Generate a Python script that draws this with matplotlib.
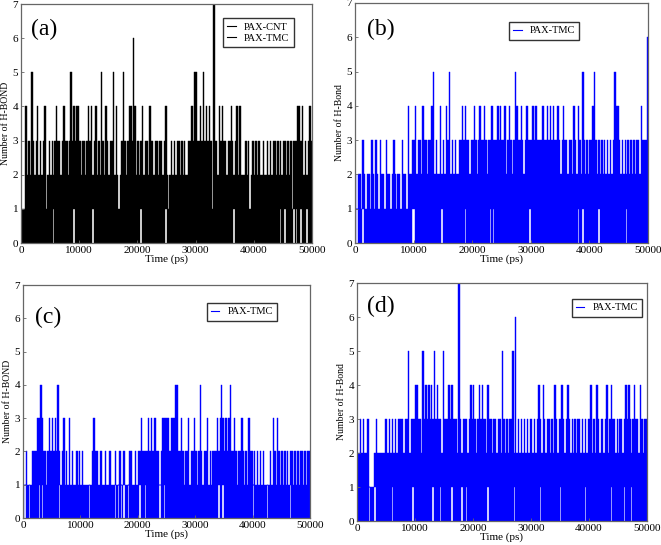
"""
hbond_panels.py
Number of hydrogen bonds vs simulation time, panels (a)-(d).

Each PEAK_* string holds the peak H-bond count in consecutive 250 ps bins
(0 - 50000 ps), read off the published figure. GAPS_* are the times where
the count never drops to zero inside the bin (white streaks in the bottom band).
"""

import numpy as np
import matplotlib.pyplot as plt
from matplotlib.lines import Line2D


BIN_PS = 250
TIME_TICKS = [0, 10000, 20000, 30000, 40000, 50000]
HBOND_TICKS = [0, 1, 2, 3, 4, 5, 6, 7]

PEAK_A = (
    "11142 32532 34232 34123 23234 "
    "33234 33235 34344 32332 34342 "
    "34232 53243 23352 42123 53234 "
    "43642 32342 33243 32332 33234 "
    "21232 32332 32322 33435 53343 "
    "53434 31733 24343 32334 32342 "
    "42223 23123 23232 23223 23233 "
    "23232 33232 31333 44342 32343"
)
GAPS_A = [5700, 9200, 12300, 20500, 24800, 36600, 44700, 45300,
          46800, 47300, 48200, 49100]

PEAK_B = (
    "21221 32122 13213 21322 13221 "
    "23212 21322 14223 34233 24332 "
    "33452 32242 32435 23232 23343 "
    "43323 34323 43343 23343 33434 "
    "33423 43235 43343 23433 34343 "
    "33343 34343 43343 23433 23324 "
    "32432 53232 33453 23232 32323 "
    "23544 32323 23232 32332 43336"
)
GAPS_B = [300, 1400, 9900, 10000, 14800, 18800, 23200, 23600, 29900,
          38200, 38900, 41600, 46300]

PEAK_C = (
    "11211 12222 33432 21232 32324 "
    "21231 21312 11212 12111 11123 "
    "22112 11211 21112 11211 21112 "
    "21121 22322 22323 23322 12333 "
    "33233 34422 32122 31223 21242 "
    "12231 21222 32343 23234 22321 "
    "22321 21322 12121 21211 11213 "
    "21321 21212 12212 12122 12122"
)
GAPS_C = [300, 1000, 2800, 3300, 6400, 11500, 16000, 16600, 17000,
          17500, 18300, 20400, 21400, 23900, 24600, 34000, 34800,
          40100, 42500, 46500]

PEAK_D = (
    "22323 22311 11232 22223 32323 "
    "23233 33233 52333 44332 53434 "
    "34353 43325 33343 43332 73233 "
    "32343 43234 34332 43323 32332 "
    "53232 33526 23232 32323 32323 "
    "43243 23323 24323 34323 43232 "
    "32332 32323 34232 43233 23423 "
    "43323 23323 43432 34332 43233"
)
GAPS_D = [2200, 3100, 6000, 9700, 13150, 14480, 16330, 18050, 18900,
          22640, 27240, 31550, 35000, 39300, 43900, 46200, 47360]

BLACK = "#000000"
BLUE = "#0000ff"

PANELS = [
    {"tag": "(a)", "peak": PEAK_A, "gaps": GAPS_A, "color": BLACK,
     "ylabel": "Number of H-BOND", "legend": ["PAX-CNT", "PAX-TMC"],
     "rect": [0.0318, 0.5541, 0.4402, 0.4385],
     "tag_xy": (0.035, 0.895), "leg_xy": (0.695, 0.941)},
    {"tag": "(b)", "peak": PEAK_B, "gaps": GAPS_B, "color": BLUE,
     "ylabel": "Number of H-Bond", "legend": ["PAX-TMC"],
     "rect": [0.5370, 0.5541, 0.4433, 0.4404],
     "tag_xy": (0.041, 0.888), "leg_xy": (0.526, 0.921)},
    {"tag": "(c)", "peak": PEAK_C, "gaps": GAPS_C, "color": BLUE,
     "ylabel": "Number of H-BOND", "legend": ["PAX-TMC"],
     "rect": [0.0348, 0.0495, 0.4342, 0.4275],
     "tag_xy": (0.042, 0.863), "leg_xy": (0.641, 0.923)},
    {"tag": "(d)", "peak": PEAK_D, "gaps": GAPS_D, "color": BLUE,
     "ylabel": "Number of H-Bond", "legend": ["PAX-TMC"],
     "rect": [0.5401, 0.0440, 0.4387, 0.4367],
     "tag_xy": (0.034, 0.900), "leg_xy": (0.741, 0.933)},
]


def parse_peaks(s):
    return np.array([int(c) for c in s if c.isdigit()])


def draw_panel(fig, cfg):
    ax = fig.add_axes(cfg["rect"])

    hi = parse_peaks(cfg["peak"])
    lo = np.zeros_like(hi)
    for g in cfg["gaps"]:
        lo[min(int(g // BIN_PS), len(hi) - 1)] = 1
    hi = np.maximum(hi, lo)

    # one step polygon per panel -> no seams between neighbouring bins
    edges = np.arange(len(hi) + 1) * BIN_PS
    ax.fill_between(edges, np.append(lo, lo[-1]), np.append(hi, hi[-1]),
                    step="post", color=cfg["color"], linewidth=0.3)

    ax.set_xlim(0, 50000)
    ax.set_ylim(0, 7)
    ax.set_xticks(TIME_TICKS)
    ax.set_yticks(HBOND_TICKS)
    ax.tick_params(direction="in", length=2.5, width=0.6, color="#666666",
                   labelsize=8, pad=2)
    for sp in ax.spines.values():
        sp.set_color("#666666")
        sp.set_linewidth(0.9)

    ax.set_xlabel("Time (ps)", fontsize=8, labelpad=0)
    ax.set_ylabel(cfg["ylabel"], fontsize=7)
    ax.yaxis.set_label_coords(-0.038, 0.5)

    ax.text(*cfg["tag_xy"], cfg["tag"], transform=ax.transAxes,
            fontsize=17, ha="left", va="center")

    handles = [Line2D([], [], color=cfg["color"], linewidth=0.8)
               for _ in cfg["legend"]]
    ax.legend(handles, cfg["legend"], loc="upper left",
              bbox_to_anchor=cfg["leg_xy"], borderaxespad=0,
              fontsize=7.5, handlelength=0.8, handletextpad=0.8,
              fancybox=False, framealpha=1, edgecolor="#333333",
              borderpad=0.4, labelspacing=0.2)
    return ax


def main():
    plt.rcParams["font.family"] = "serif"
    plt.rcParams["font.serif"] = ["Liberation Serif", "DejaVu Serif"]

    fig = plt.figure(figsize=(6.61, 5.45), dpi=100)
    for cfg in PANELS:
        draw_panel(fig, cfg)

    fig.savefig("out.png", dpi=100)


if __name__ == "__main__":
    main()
